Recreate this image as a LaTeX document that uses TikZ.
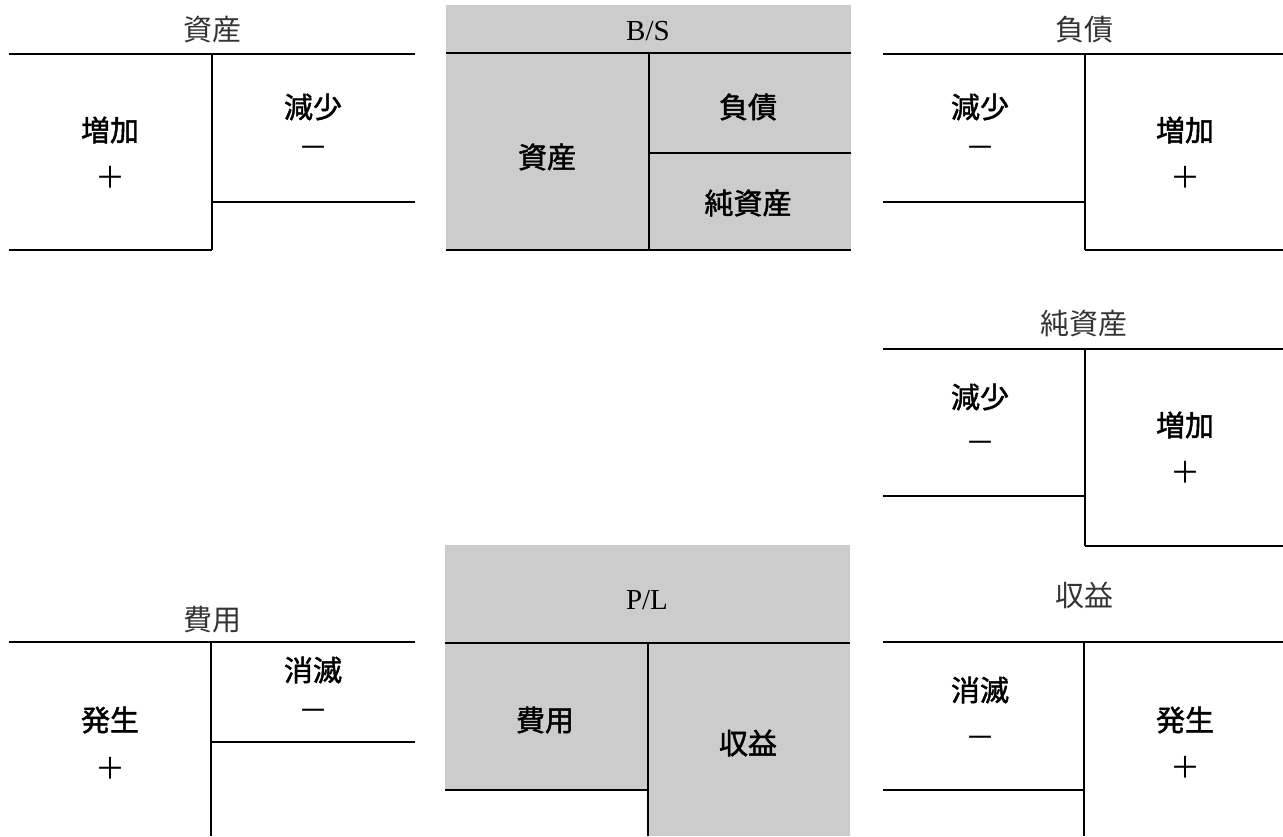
\documentclass[tikz,border=0pt]{standalone}
\usepackage{fontspec}
\setmainfont{Liberation Serif}
\newfontfamily\jp{Noto Sans CJK JP}
\newfontfamily\jpm[FakeBold=1.6]{Noto Sans CJK JP}
\begin{document}
\begin{tikzpicture}[x=1pt,y=-1pt,
  ln/.style={line width=1.3pt},
  ttl/.style={font=\jp\fontsize{29}{34}\selectfont, text=black!80, inner sep=0pt},
  lab/.style={font=\jpm\fontsize{29}{34}\selectfont, inner sep=0pt},
  glab/.style={font=\jpm\fontsize{29}{34}\selectfont, inner sep=0pt},
  sgn/.style={font=\jp\fontsize{30}{34}\selectfont, inner sep=0pt},
  rom/.style={font=\fontsize{29}{34}\selectfont, inner sep=0pt}]
\useasboundingbox (0,0) rectangle (1283,836);
\definecolor{boxgray}{HTML}{CCCCCC}
% ---------- 資産 T-account ----------
\node[ttl] (t1) at (212,30) {資産};
\draw[ln] (9,54) -- (415,54);
\draw[ln] (212,54) -- (212,250);
\draw[ln] (9,250) -- (212,250);
\draw[ln] (212,202) -- (415,202);
\node[lab] (a1) at (110,130) {増加};
\node[sgn] (a2) at (110,177) {＋};
\node[lab] (a3) at (313,107) {減少};
\node[sgn] (a4) at (313,152) {－};
% ---------- B/S ----------
\fill[boxgray] (446,5) rectangle (851,250);
\draw[ln] (446,53) -- (851,53);
\draw[ln] (649,53) -- (649,250);
\draw[ln] (649,153) -- (851,153);
\draw[ln] (446,250) -- (851,250);
\node[rom] (bs) at (648,31) {B/S};
\node[glab] (b1) at (547,157) {資産};
\node[glab] (b2) at (748,107) {負債};
\node[glab] (b3) at (748,203) {純資産};
% ---------- 負債 T-account ----------
\node[ttl] (t2) at (1084,30) {負債};
\draw[ln] (883,54) -- (1283,54);
\draw[ln] (1085,54) -- (1085,250);
\draw[ln] (883,202) -- (1085,202);
\draw[ln] (1085,250) -- (1283,250);
\node[lab] (c1) at (980,107) {減少};
\node[sgn] (c2) at (980,152) {－};
\node[lab] (c3) at (1185,130) {増加};
\node[sgn] (c4) at (1185,177) {＋};
% ---------- 純資産 T-account ----------
\node[ttl] (t3) at (1084,324) {純資産};
\draw[ln] (883,349) -- (1283,349);
\draw[ln] (1085,349) -- (1085,546);
\draw[ln] (883,496) -- (1085,496);
\draw[ln] (1085,546) -- (1283,546);
\node[lab] (d1) at (980,397) {減少};
\node[sgn] (d2) at (980,447) {－};
\node[lab] (d3) at (1185,425) {増加};
\node[sgn] (d4) at (1185,472) {＋};
% ---------- 費用 T-account ----------
\node[ttl] (t4) at (212,620) {費用};
\draw[ln] (9,642) -- (415,642);
\draw[ln] (211,642) -- (211,836);
\draw[ln] (211,742) -- (415,742);
\node[lab] (e1) at (110,720) {発生};
\node[sgn] (e2) at (110,768) {＋};
\node[lab] (e3) at (313,670) {消滅};
\node[sgn] (e4) at (313,715) {－};
% ---------- P/L ----------
\fill[boxgray] (445,545) rectangle (850,790);
\fill[boxgray] (648,643) rectangle (850,836);
\draw[ln] (445,643) -- (850,643);
\draw[ln] (648,643) -- (648,836);
\draw[ln] (445,790) -- (648,790);
\node[rom] (pl) at (647,600) {P/L};
\node[glab] (p1) at (545,720) {費用};
\node[glab] (p2) at (748,743) {収益};
% ---------- 収益 T-account ----------
\node[ttl] (t5) at (1084,595) {収益};
\draw[ln] (883,642) -- (1283,642);
\draw[ln] (1084,642) -- (1084,836);
\draw[ln] (883,790) -- (1084,790);
\node[lab] (f1) at (980,690) {消滅};
\node[sgn] (f2) at (980,742) {－};
\node[lab] (f3) at (1185,720) {発生};
\node[sgn] (f4) at (1185,767) {＋};
\end{tikzpicture}
\end{document}
